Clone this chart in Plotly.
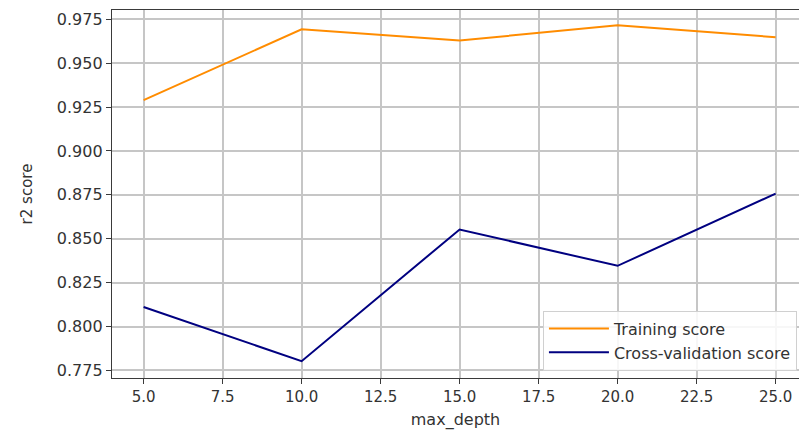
import plotly.graph_objects as go

# Validation curve for a tree model: r2 score vs max_depth
max_depth = [5, 10, 15, 20, 25]
train_scores = [0.929, 0.9693, 0.9629, 0.9716, 0.9648]
cv_scores = [0.8111, 0.7803, 0.8553, 0.8346, 0.8757]

x_ticks = [5.0, 7.5, 10.0, 12.5, 15.0, 17.5, 20.0, 22.5, 25.0]
y_ticks = [0.775, 0.800, 0.825, 0.850, 0.875, 0.900, 0.925, 0.950, 0.975]

FONT = "DejaVu Sans"
TEXT = "#333333"
GRID = "#c6c6c6"
SPINE = "#3a3a3a"

fig = go.Figure()
fig.add_trace(go.Scatter(
    x=max_depth, y=train_scores, mode="lines", name="Training score",
    line=dict(color="darkorange", width=2),
))
fig.add_trace(go.Scatter(
    x=max_depth, y=cv_scores, mode="lines", name="Cross-validation score",
    line=dict(color="navy", width=2),
))

fig.update_layout(
    width=799, height=430,
    margin=dict(l=112, r=0, t=10, b=52),
    paper_bgcolor="white", plot_bgcolor="white",
    font=dict(family=FONT, size=15, color=TEXT),
    legend=dict(
        x=0.997, y=0.02, xanchor="right", yanchor="bottom",
        bgcolor="rgba(255,255,255,0.85)", bordercolor="#d0d0d0", borderwidth=1,
        font=dict(family=FONT, size=16, color=TEXT),
        itemwidth=60, tracegroupgap=0,
    ),
)

fig.update_xaxes(
    range=[4.0, 25.74], tickvals=x_ticks, ticktext=[f"{v:.1f}" for v in x_ticks],
    showgrid=True, gridcolor=GRID, gridwidth=1.5, zeroline=False,
    showline=True, linecolor=SPINE, linewidth=1.3, mirror=True,
    ticks="outside", ticklen=5, tickwidth=1, tickcolor=SPINE,
    tickfont=dict(size=15),
    title=dict(text="max_depth", standoff=8, font=dict(size=16, color=TEXT)),
)
fig.update_yaxes(
    range=[0.7707, 0.9803], tickvals=y_ticks, ticktext=[f"{v:.3f}" for v in y_ticks],
    showgrid=True, gridcolor=GRID, gridwidth=1.5, zeroline=False,
    showline=True, linecolor=SPINE, linewidth=1.3, mirror=False,
    ticks="outside", ticklen=5, tickwidth=1, tickcolor=SPINE,
    tickfont=dict(size=16),
    title=dict(text="r2 score", standoff=20, font=dict(size=15, color=TEXT)),
)

fig.write_html("out.html")
